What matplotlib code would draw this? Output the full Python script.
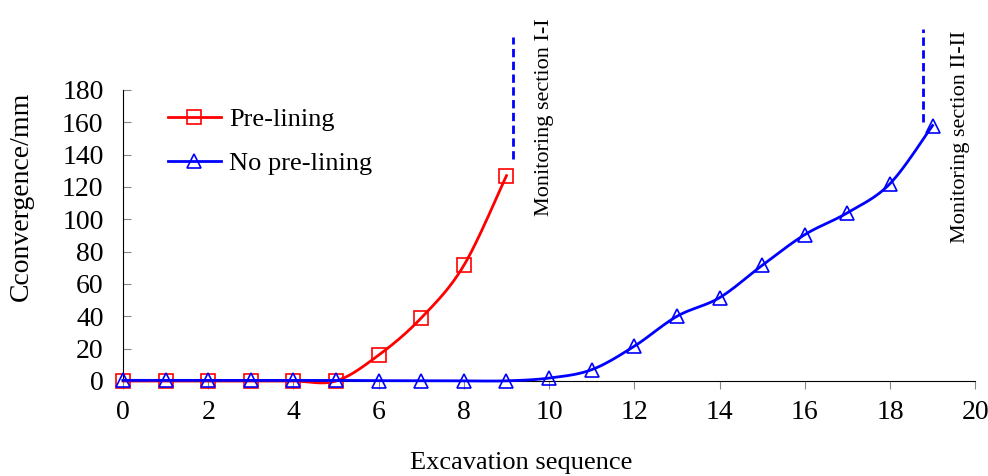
import matplotlib
matplotlib.use("Agg")
import matplotlib.pyplot as plt
import numpy as np

plt.rcParams["font.family"] = ["Liberation Serif", "DejaVu Serif"]

steps_pre = [0, 1, 2, 3, 4, 5, 6, 7, 8, 9]
conv_pre = [0, 0, 0, 0, 0, 0, 16, 39, 71.5, 127]

steps_no = [0, 1, 2, 3, 4, 5, 6, 7, 8, 9, 10, 11, 12, 13, 14, 15, 16, 17, 18, 19]
conv_no = [0.4, 0.4, 0.4, 0.4, 0.4, 0.4, 0.2, 0.2, 0.1, 0.1, 1.8, 7, 21.5, 40, 51.5, 71.5, 90.5, 104, 122, 158]

xticks = list(range(0, 21, 2))
yticks = list(range(0, 181, 20))


def smooth(x, y, n=20):
    # Excel-like smoothed line (Catmull-Rom / Bezier with 1/6 tension)
    x = np.asarray(x, float)
    y = np.asarray(y, float)
    px = np.concatenate([[x[0]], x, [x[-1]]])
    py = np.concatenate([[y[0]], y, [y[-1]]])
    xs, ys = [], []
    t = np.linspace(0, 1, n)
    for i in range(1, len(px) - 2):
        p0 = np.array([px[i], py[i]])
        p3 = np.array([px[i + 1], py[i + 1]])
        p1 = p0 + (np.array([px[i + 1], py[i + 1]]) - np.array([px[i - 1], py[i - 1]])) / 6
        p2 = p3 - (np.array([px[i + 2], py[i + 2]]) - np.array([px[i], py[i]])) / 6
        b = ((1 - t) ** 3)[:, None] * p0 + (3 * (1 - t) ** 2 * t)[:, None] * p1 \
            + (3 * (1 - t) * t ** 2)[:, None] * p2 + (t ** 3)[:, None] * p3
        xs.extend(b[:, 0])
        ys.extend(b[:, 1])
    return xs, ys


fig = plt.figure(figsize=(9.88, 4.76), dpi=100)
ax = fig.add_axes([0.1245, 0.1996, 0.8625, 0.6114])

sx, sy = smooth(steps_pre, conv_pre)
ax.plot(sx, sy, color="red", lw=2, clip_on=False, zorder=3)
ax.plot(steps_pre, conv_pre, ls="none", marker="s", ms=10, mfc="none", mec="red", mew=1.2,
        clip_on=False, zorder=4)
sx, sy = smooth(steps_no, conv_no)
ax.plot(sx, sy, color="blue", lw=2, clip_on=False, zorder=5)
ax.plot(steps_no, conv_no, ls="none", marker="^", ms=10, mfc="none", mec="blue", mew=1.2,
        clip_on=False, zorder=6)

# legend handles
h1, = ax.plot([], [], color="red", lw=2, marker="s", ms=10, mfc="none", mec="red", mew=1.2)
h2, = ax.plot([], [], color="blue", lw=2, marker="^", ms=10, mfc="none", mec="blue", mew=1.2)
ax.legend([h1, h2], ["Pre-lining", "No pre-lining"], loc="upper left", bbox_to_anchor=(0.025, 1.021),
          frameon=False, fontsize=19, handlelength=2.0, handletextpad=0.3, labelspacing=0.79)

# monitoring sections
ax.plot([9.15, 9.15], [137, 213], color="blue", lw=2, ls=(0, (3, 1.6)), clip_on=False)
ax.text(9.9, 163, "Monitoring section I-I", rotation=90, ha="center", va="center",
        fontsize=16, clip_on=False)
ax.plot([18.77, 18.77], [160, 218], color="blue", lw=2, ls=(0, (3, 1.6)), clip_on=False)
ax.text(19.65, 151, "Monitoring section II-II", rotation=90, ha="center", va="center",
        fontsize=16, clip_on=False)

ax.set_xlim(0, 20)
ax.set_ylim(0, 180)
ax.set_xticks(xticks)
ax.set_yticks(yticks)
ax.spines["top"].set_visible(False)
ax.spines["right"].set_visible(False)
ax.tick_params(axis="x", direction="out", length=6, color="#888888", labelsize=20, pad=8)
ax.tick_params(axis="y", direction="in", length=6, color="#888888", labelsize=20, pad=14)
ax.set_xlabel("Excavation sequence", fontsize=19)
ax.set_ylabel("Cconvergence/mm", fontsize=20)
ax.xaxis.set_label_coords(0.467, -0.244)
ax.yaxis.set_label_coords(-0.105, 0.636)

fig.savefig("out.png", dpi=100)
